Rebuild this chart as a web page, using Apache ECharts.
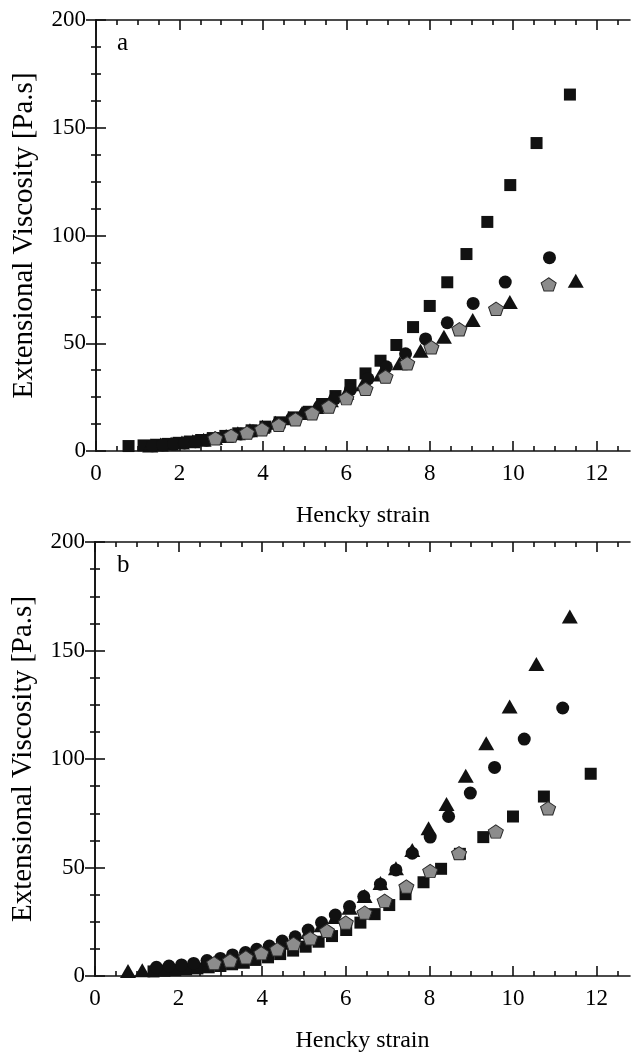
<!DOCTYPE html>
<html>
<head>
<meta charset="utf-8">
<script src="https://cdn.jsdelivr.net/npm/echarts@6/dist/echarts.min.js"></script>
<style>html,body{margin:0;padding:0;background:#fff}#c{width:636px;height:1054px}</style>
</head>
<body>
<div id="c"></div>
<script>
// ---------- tick labels ----------
const xTickLabels = [0, 2, 4, 6, 8, 10, 12];
const xMinorTicks = [0.5,1,1.5,2.5,3,3.5,4.5,5,5.5,6.5,7,7.5,8.5,9,9.5,10.5,11,11.5,12.5];
const yTickLabels = [0, 50, 100, 150, 200];

// ---------- panel a ----------
const aSquareX = [0.78,1.14,1.45,1.72,1.98,2.25,2.52,2.8,3.1,3.41,3.73,4.06,4.4,4.74,5.1,5.42,5.74,6.1,6.46,6.82,7.2,7.6,8.0,8.42,8.88,9.38,9.93,10.56,11.36];
const aSquareY = [2.3,2.6,2.9,3.3,3.8,4.4,5.1,6.0,7.0,8.2,9.6,11.3,13.3,15.6,18.2,21.8,25.5,30.6,36.0,41.9,49.2,57.5,67.3,78.3,91.4,106.3,123.4,142.9,165.4];
const aTriangleX = [1.3,1.55,1.8,2.06,2.32,2.58,2.85,3.12,3.4,3.69,3.99,4.3,4.62,4.94,5.28,5.63,6.0,6.4,6.82,7.28,7.78,8.34,9.03,9.92,11.5];
const aTriangleY = [2.6,3.0,3.4,3.9,4.5,5.2,6.0,7.0,8.2,9.6,11.2,13.1,15.2,17.6,20.4,23.5,27.0,31.0,35.5,40.7,46.5,53.0,60.8,69.1,79.0];
const aCircleX = [1.35,1.6,1.86,2.12,2.38,2.65,2.92,3.19,3.47,3.76,4.06,4.37,4.69,5.02,5.36,5.72,6.1,6.52,6.96,7.42,7.9,8.42,9.04,9.81,10.87];
const aCircleY = [2.4,2.8,3.2,3.7,4.3,5.0,5.8,6.8,7.9,9.3,10.9,12.8,15.0,17.6,20.6,24.2,28.5,33.5,39.1,45.1,52.0,59.5,68.5,78.4,89.7];
const aPentagonX = [2.86,3.24,3.62,3.98,4.38,4.78,5.18,5.58,6.0,6.46,6.94,7.46,8.04,8.71,9.59,10.85];
const aPentagonY = [5.9,7.1,8.5,10.1,12.1,14.7,17.5,20.6,24.5,28.8,34.5,40.7,48.1,56.5,66.0,77.3];

// ---------- panel b ----------
const bTriangleX = [0.79,1.13,1.45,1.76,2.06,2.36,2.67,2.98,3.28,3.58,3.88,4.18,4.48,4.79,5.1,5.42,5.75,6.09,6.45,6.83,7.2,7.59,7.98,8.41,8.87,9.36,9.92,10.56,11.36];
const bTriangleY = [2.3,2.6,3.6,4.2,4.8,5.5,6.5,7.6,8.9,10.2,11.7,13.3,15.3,17.5,20.3,23.4,27.2,31.5,36.9,42.8,49.7,58.1,68.1,79.3,92.3,107.3,124.2,143.8,165.7];
const bSquareX = [1.4,1.66,1.92,2.18,2.45,2.72,3.0,3.28,3.56,3.84,4.14,4.43,4.74,5.04,5.35,5.67,6.01,6.35,6.69,7.04,7.43,7.86,8.28,8.73,9.29,10.0,10.74,11.86];
const bSquareY = [2.1,2.4,2.7,3.1,3.5,4.0,4.6,5.4,6.1,7.4,8.6,10.1,11.7,13.5,15.8,18.4,21.2,24.6,28.5,32.7,37.7,43.2,49.4,56.3,64.0,73.5,82.7,93.2];
const bCircleX = [1.47,1.77,2.07,2.36,2.68,3.0,3.29,3.6,3.87,4.17,4.48,4.79,5.1,5.42,5.75,6.09,6.43,6.83,7.2,7.59,8.02,8.46,8.98,9.56,10.27,11.19];
const bCircleY = [4.0,4.6,5.1,5.8,7.1,8.1,9.7,10.8,12.3,13.8,16.1,18.1,21.2,24.6,28.1,32.0,36.6,42.3,48.9,56.6,64.0,73.5,84.3,96.1,109.2,123.5];
const bPentagonX = [2.85,3.23,3.61,3.98,4.36,4.75,5.15,5.55,6.0,6.45,6.93,7.45,8.02,8.71,9.59,10.84];
const bPentagonY = [5.9,7.1,8.6,10.5,12.3,14.8,17.4,20.8,24.6,29.2,34.7,41.2,48.4,56.6,66.6,77.3];

const xName = 'Hencky strain';
const yName = 'Extensional Viscosity [Pa.s]';

// ---------- styling ----------
const FONT = '"Liberation Serif", "Times New Roman", serif';
const INK = '#000';
const MARK = '#111';
const lineStyle = { color: '#111', width: 1.6 };

function zip(xs, ys) { return xs.map((x, i) => [x, ys[i]]); }

function xAxesFor(gridIndex) {
  const base = { type: 'value', gridIndex, min: 0, max: 12.8, splitLine: { show: false }, silent: true };
  return [
    Object.assign({}, base, {
      position: 'bottom',
      axisLine: { show: true, lineStyle },
      axisTick: { show: true, inside: true, length: 10, customValues: xTickLabels, lineStyle },
      axisLabel: { show: true, customValues: xTickLabels, fontSize: 23, color: INK, fontFamily: FONT, margin: 11 },
      name: xName, nameLocation: 'middle', nameGap: 53,
      nameTextStyle: { fontSize: 24, color: INK, fontFamily: FONT }
    }),
    Object.assign({}, base, {
      position: 'bottom',
      axisLine: { show: false },
      axisTick: { show: true, inside: true, length: 5, customValues: xMinorTicks, lineStyle },
      axisLabel: { show: false }
    }),
    Object.assign({}, base, {
      position: 'top',
      axisLine: { show: true, lineStyle },
      axisTick: { show: true, inside: true, length: 10, customValues: xTickLabels, lineStyle },
      axisLabel: { show: false }
    }),
    Object.assign({}, base, {
      position: 'top',
      axisLine: { show: false },
      axisTick: { show: true, inside: true, length: 5, customValues: xMinorTicks, lineStyle },
      axisLabel: { show: false }
    })
  ];
}

function yAxesFor(gridIndex) {
  const base = {
    type: 'value', gridIndex, min: 0, max: 200, interval: 50,
    splitLine: { show: false }, silent: true,
    axisLine: { show: true, lineStyle },
    axisTick: { show: true, inside: true, length: 10, lineStyle },
    minorTick: { show: true, splitNumber: 4, length: 5, lineStyle }
  };
  return [
    Object.assign({}, base, {
      position: 'left',
      axisLabel: { show: true, customValues: yTickLabels, fontSize: 23, color: INK, fontFamily: FONT, margin: 10 },
      name: yName, nameLocation: 'middle', nameGap: 57, nameRotate: 90,
      nameTextStyle: { fontSize: 29, color: INK, fontFamily: FONT }
    }),
    Object.assign({}, base, { position: 'right', axisLabel: { show: false } })
  ];
}

const pentagon = 'path://M0,-1L0.951,-0.309L0.588,0.809L-0.588,0.809L-0.951,-0.309Z';
function sq(xi, yi, xs, ys, z) {
  return { type: 'scatter', xAxisIndex: xi, yAxisIndex: yi, data: zip(xs, ys), symbol: 'rect', symbolSize: 12,
    itemStyle: { color: MARK, opacity: 1 }, z, silent: true };
}
function tri(xi, yi, xs, ys, z) {
  return { type: 'scatter', xAxisIndex: xi, yAxisIndex: yi, data: zip(xs, ys), symbol: 'triangle', symbolSize: [16, 14],
    itemStyle: { color: MARK, opacity: 1 }, z, silent: true };
}
function circ(xi, yi, xs, ys, z) {
  return { type: 'scatter', xAxisIndex: xi, yAxisIndex: yi, data: zip(xs, ys), symbol: 'circle', symbolSize: 13,
    itemStyle: { color: MARK, opacity: 1 }, z, silent: true };
}
function pent(xi, yi, xs, ys, z) {
  return { type: 'scatter', xAxisIndex: xi, yAxisIndex: yi, data: zip(xs, ys), symbol: pentagon, symbolSize: [15, 14],
    symbolKeepAspect: true,
    itemStyle: { color: '#8c8c8c', borderColor: '#2a2a2a', borderWidth: 1, opacity: 1 }, z, silent: true };
}

const chart = echarts.init(document.getElementById('c'), null, { renderer: 'canvas', width: 636, height: 1054 });
chart.setOption({
  animation: false,
  backgroundColor: '#fff',
  grid: [
    { left: 96, top: 20, width: 534, height: 431 },
    { left: 95, top: 542, width: 535, height: 434 }
  ],
  xAxis: xAxesFor(0).concat(xAxesFor(1)),
  yAxis: yAxesFor(0).concat(yAxesFor(1)),
  graphic: [
    { type: 'text', left: 117, top: 31, style: { text: 'a', fontSize: 25, fontFamily: FONT, fill: INK } },
    { type: 'text', left: 117, top: 553, style: { text: 'b', fontSize: 25, fontFamily: FONT, fill: INK } }
  ],
  series: [
    sq(0, 0, aSquareX, aSquareY, 2),
    tri(0, 0, aTriangleX, aTriangleY, 3),
    circ(0, 0, aCircleX, aCircleY, 4),
    pent(0, 0, aPentagonX, aPentagonY, 5),
    tri(4, 2, bTriangleX, bTriangleY, 2),
    sq(4, 2, bSquareX, bSquareY, 3),
    circ(4, 2, bCircleX, bCircleY, 4),
    pent(4, 2, bPentagonX, bPentagonY, 5)
  ]
});
</script>
</body>
</html>
